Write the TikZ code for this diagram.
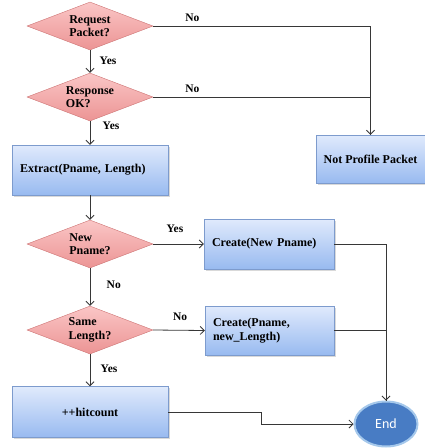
\documentclass[tikz,border=0pt]{standalone}
\usepackage{fontspec}
\setmainfont{Liberation Serif}
\newfontfamily\endfont{Carlito}
\usepackage{xcolor}
\usepackage{tikz}
\usetikzlibrary{shapes.geometric, arrows.meta, shadows}
\definecolor{dectop}{RGB}{250,198,198}
\definecolor{decbot}{RGB}{236,148,148}
\definecolor{decline}{RGB}{205,115,115}
\definecolor{boxtop}{RGB}{224,234,252}
\definecolor{boxbot}{RGB}{152,186,240}
\definecolor{boxline}{RGB}{125,155,205}
\definecolor{endfill}{RGB}{72,124,196}
\definecolor{endring}{RGB}{165,200,235}
\definecolor{wire}{RGB}{55,55,55}
\tikzstyle{decision} = [diamond, aspect=2.6, inner sep=0pt, minimum width=126pt,
                        minimum height=48pt, align=left, top color=dectop,
                        bottom color=decbot, draw=decline,
                        font=\bfseries\fontsize{12}{13.5}\selectfont]
\tikzstyle{block}    = [rectangle, minimum width=156pt, minimum height=50pt,
                        top color=boxtop, bottom color=boxbot, draw=boxline,
                        drop shadow={shadow xshift=1.5pt, shadow yshift=-1.5pt, opacity=0.3},
                        font=\bfseries\fontsize{12}{13.5}\selectfont]
\tikzstyle{terminal} = [ellipse, minimum width=63pt, minimum height=45pt,
                        fill=endfill, draw=endring, line width=2pt,
                        text=white, font=\endfont\fontsize{14}{16}\selectfont]
\tikzstyle{lab}      = [font=\bfseries\fontsize{11.5}{13}\selectfont]
\tikzstyle{arrow}    = [draw=wire, line width=0.8pt, -{Straight Barb[length=4pt,width=8pt]}]
\tikzstyle{wireline} = [draw=wire, line width=0.8pt]

\begin{document}
\begin{tikzpicture}[x=1pt, y=-1pt]
\useasboundingbox (0,0) rectangle (425,448);

\node (req)   [decision] at (90,26)   {Request\\Packet?};
\node (resp)  [decision] at (90,97)   {Response\\OK?};
\node (extr)  [block, align=left, text width=140pt] at (90,170)
                                      {Extract(Pname, Length)};
\node (newp)  [decision] at (90,244)  {New\\Pname?};
\node (same)  [decision] at (90,330)  {Same\\Length?};
\node (hit)   [block, minimum height=51pt] at (90,412) {++hitcount};
\node (notp)  [block, minimum width=109pt, minimum height=48pt] at (370.5,159)
                                      {Not Profile Packet};
\node (cnew)  [block, minimum width=130pt, align=left, text width=114pt] at (269,244)
                                      {Create(New Pname)};
\node (clen)  [block, minimum width=129pt, minimum height=49pt, align=left,
               text width=113pt] at (269.5,330.5)
                                      {Create(Pname,\\new\_Length)};
\node (end)   [terminal] at (386,424) {End};

\draw [arrow] (req)  -- (resp) node [lab, right, pos=0.45, xshift=6pt] {Yes};
\draw [arrow] (resp) -- (extr) node [lab, right, pos=0.2, xshift=9pt] {Yes};
\draw [arrow] (extr) -- (newp);
\draw [arrow] (newp) -- (same) node [lab, right, pos=0.43, xshift=13pt] {No};
\draw [arrow] (same) -- (hit)  node [lab, right, pos=0.45, xshift=7pt] {Yes};

\draw [wireline] (req.east)  -| (notp.north) node [lab, above, pos=0.09, yshift=1pt] {No};
\draw [arrow]    (resp.east) -| (notp.north) node [lab, above, pos=0.09, yshift=1pt] {No};

\draw [arrow] (newp.east) -- (cnew.west) node [lab, above, pos=0.43, yshift=8pt] {Yes};
\draw [arrow] (same.east) -- (clen.west) node [lab, above, pos=0.52, yshift=6pt] {No};

\draw [wireline] (cnew.east) -| (end.north);
\draw [arrow]    (clen.east) -| (end.north);
\draw [arrow]    (hit.east) -- ++(93,0) |- (end.west);

\end{tikzpicture}
\end{document}
